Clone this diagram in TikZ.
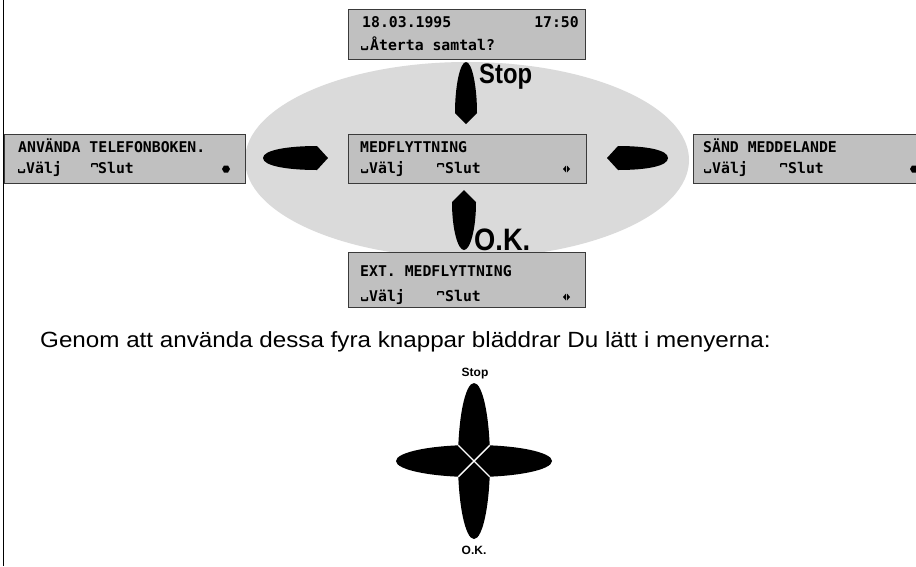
\documentclass[tikz,border=0pt]{standalone}
\usepackage{fontspec}
\setmainfont{Liberation Sans}
\newfontfamily\lcdfont{DejaVu Sans Mono}
\newfontfamily\narrowfont[FakeStretch=0.88]{Liberation Sans}
\newfontfamily\condfont[FakeStretch=0.85]{Liberation Sans}
\newfontfamily\widefont[FakeStretch=1.1]{Liberation Sans}
\definecolor{lcdgray}{HTML}{C0C0C0}
\definecolor{ellgray}{HTML}{DADADA}
\definecolor{bordergray}{HTML}{3A3A3A}
\tikzset{
  lcdbox/.style={draw=bordergray, fill=lcdgray, line width=1.3pt, inner sep=0pt, anchor=north west},
  lcdtext/.style={anchor=base west, inner sep=0pt, font=\lcdfont\bfseries\fontsize{14.8}{16}\selectfont},
  lbl/.style={inner sep=0pt},
  enterglyph/.pic={\fill (0,-4) -- (1.3,-4) -- (1.3,-1.6) -- (5.7,-1.6) -- (5.7,-4) -- (7,-4) -- (7,-1) -- (6,0) -- (1,0) -- (0,-1) -- cycle;},
  capglyph/.pic={\fill (0,-6) -- (0,-9) -- (1,-10) -- (6,-10) -- (7,-9) -- (7,-6) -- (5.7,-6) -- (5.7,-8.4) -- (1.3,-8.4) -- (1.3,-6) -- cycle;},
  lrglyph/.pic={\fill (0,-4) -- (3,-7.5) -- (3,-0.5) -- cycle; \fill (4,-7.5) -- (7,-4) -- (4,-0.5) -- cycle;},
  hexglyph/.pic={\fill (0,-4) -- (2,-7.5) -- (6,-7.5) -- (8,-4) -- (6,-0.5) -- (2,-0.5) -- cycle;}
}
\begin{document}
\begin{tikzpicture}[x=1pt,y=-1pt]
\useasboundingbox (0,0) rectangle (916,566);
\clip (0,0) rectangle (916,566);
\fill[white] (0,0) rectangle (916,566);

% left rule
\draw[line width=1.3pt, black] (3.5,0) -- (3.5,566);

% grey ellipse
\fill[ellgray] (467,160) ellipse [x radius=222, y radius=98];

% LCD boxes
\node[lcdbox, minimum width=237pt, minimum height=50pt] (topbox) at (348,9) {};
\node[lcdbox, minimum width=241pt, minimum height=49pt] (leftbox) at (4,134) {};
\node[lcdbox, minimum width=238pt, minimum height=49pt] (centerbox) at (348,134) {};
\node[lcdbox, minimum width=240pt, minimum height=49pt] (rightbox) at (693,134) {};
\node[lcdbox, minimum width=237pt, minimum height=55pt] (bottombox) at (348,252) {};

% top box text
\node[lcdtext] (t1) at (362,27) {18.03.1995};
\node[lcdtext, anchor=base east] (t2) at (579,27) {17:50};
\pic at (361,50) {enterglyph};
\node[lcdtext] (t3) at (370,50) {Återta samtal?};

% left box text
\node[lcdtext] (l1) at (18,152) {ANVÄNDA TELEFONBOKEN.};
\pic at (18,173) {enterglyph};
\node[lcdtext] (l2) at (26,173) {Välj};
\pic at (91,173) {capglyph};
\node[lcdtext] (l3) at (98,173) {Slut};
\pic at (222,173) {hexglyph};

% center box text
\node[lcdtext] (c1) at (360,152) {MEDFLYTTNING};
\pic at (361,173) {enterglyph};
\node[lcdtext] (c2) at (369,173) {Välj};
\pic at (437,173) {capglyph};
\node[lcdtext] (c3) at (445,173) {Slut};
\pic at (563,173) {lrglyph};

% right box text
\node[lcdtext] (r1) at (703,152) {SÄND MEDDELANDE};
\pic at (704,173) {enterglyph};
\node[lcdtext] (r2) at (712,173) {Välj};
\pic at (780,173) {capglyph};
\node[lcdtext] (r3) at (788,173) {Slut};
\pic at (910,173) {hexglyph};

% bottom box text
\node[lcdtext] (b1) at (360,276) {EXT. MEDFLYTTNING};
\pic at (361,301) {enterglyph};
\node[lcdtext] (b2) at (369,301) {Välj};
\pic at (437,301) {capglyph};
\node[lcdtext] (b3) at (445,301) {Slut};
\pic at (563,301) {lrglyph};

% navigation buttons around the centre box
\fill[black] (466,124) -- (455,113) .. controls (455,86) and (460,62) .. (466,62) .. controls (472,62) and (477,86) .. (477,113) -- cycle;
\fill[black] (464,190) -- (476,202) .. controls (476,230) and (470,250) .. (464,250) .. controls (458,250) and (452,230) .. (452,202) -- cycle;
\fill[black] (328,158) -- (317,146) .. controls (288,146) and (263,150) .. (263,158) .. controls (263,166) and (288,170) .. (317,170) -- cycle;
\fill[black] (607,158) -- (618,146) .. controls (647,146) and (668,150) .. (668,158) .. controls (668,166) and (647,170) .. (618,170) -- cycle;

\node[lbl, anchor=base west, font=\condfont\bfseries\fontsize{28}{30}\selectfont] (stop) at (479,83) {Stop};
\node[lbl, anchor=base west, font=\narrowfont\bfseries\fontsize{31}{33}\selectfont] (ok) at (474,250) {O.K.};

% explanatory text
\node[lbl, anchor=base west, font=\widefont\fontsize{22}{24}\selectfont] (expl) at (40,347) {Genom att använda dessa fyra knappar bläddrar Du lätt i menyerna:};

% small cross of buttons
\fill[black] (474,461) ellipse [x radius=16, y radius=78];
\fill[black] (474,461) ellipse [x radius=78, y radius=16];
\draw[white, line width=1.4pt] (458.3,445.3) -- (489.7,476.7);
\draw[white, line width=1.4pt] (489.7,445.3) -- (458.3,476.7);
\node[lbl, anchor=base, font=\bfseries\fontsize{12}{14}\selectfont] (stop2) at (475,376) {Stop};
\node[lbl, anchor=base, font=\bfseries\fontsize{12}{14}\selectfont] (ok2) at (474,554) {O.K.};
\end{tikzpicture}
\end{document}
